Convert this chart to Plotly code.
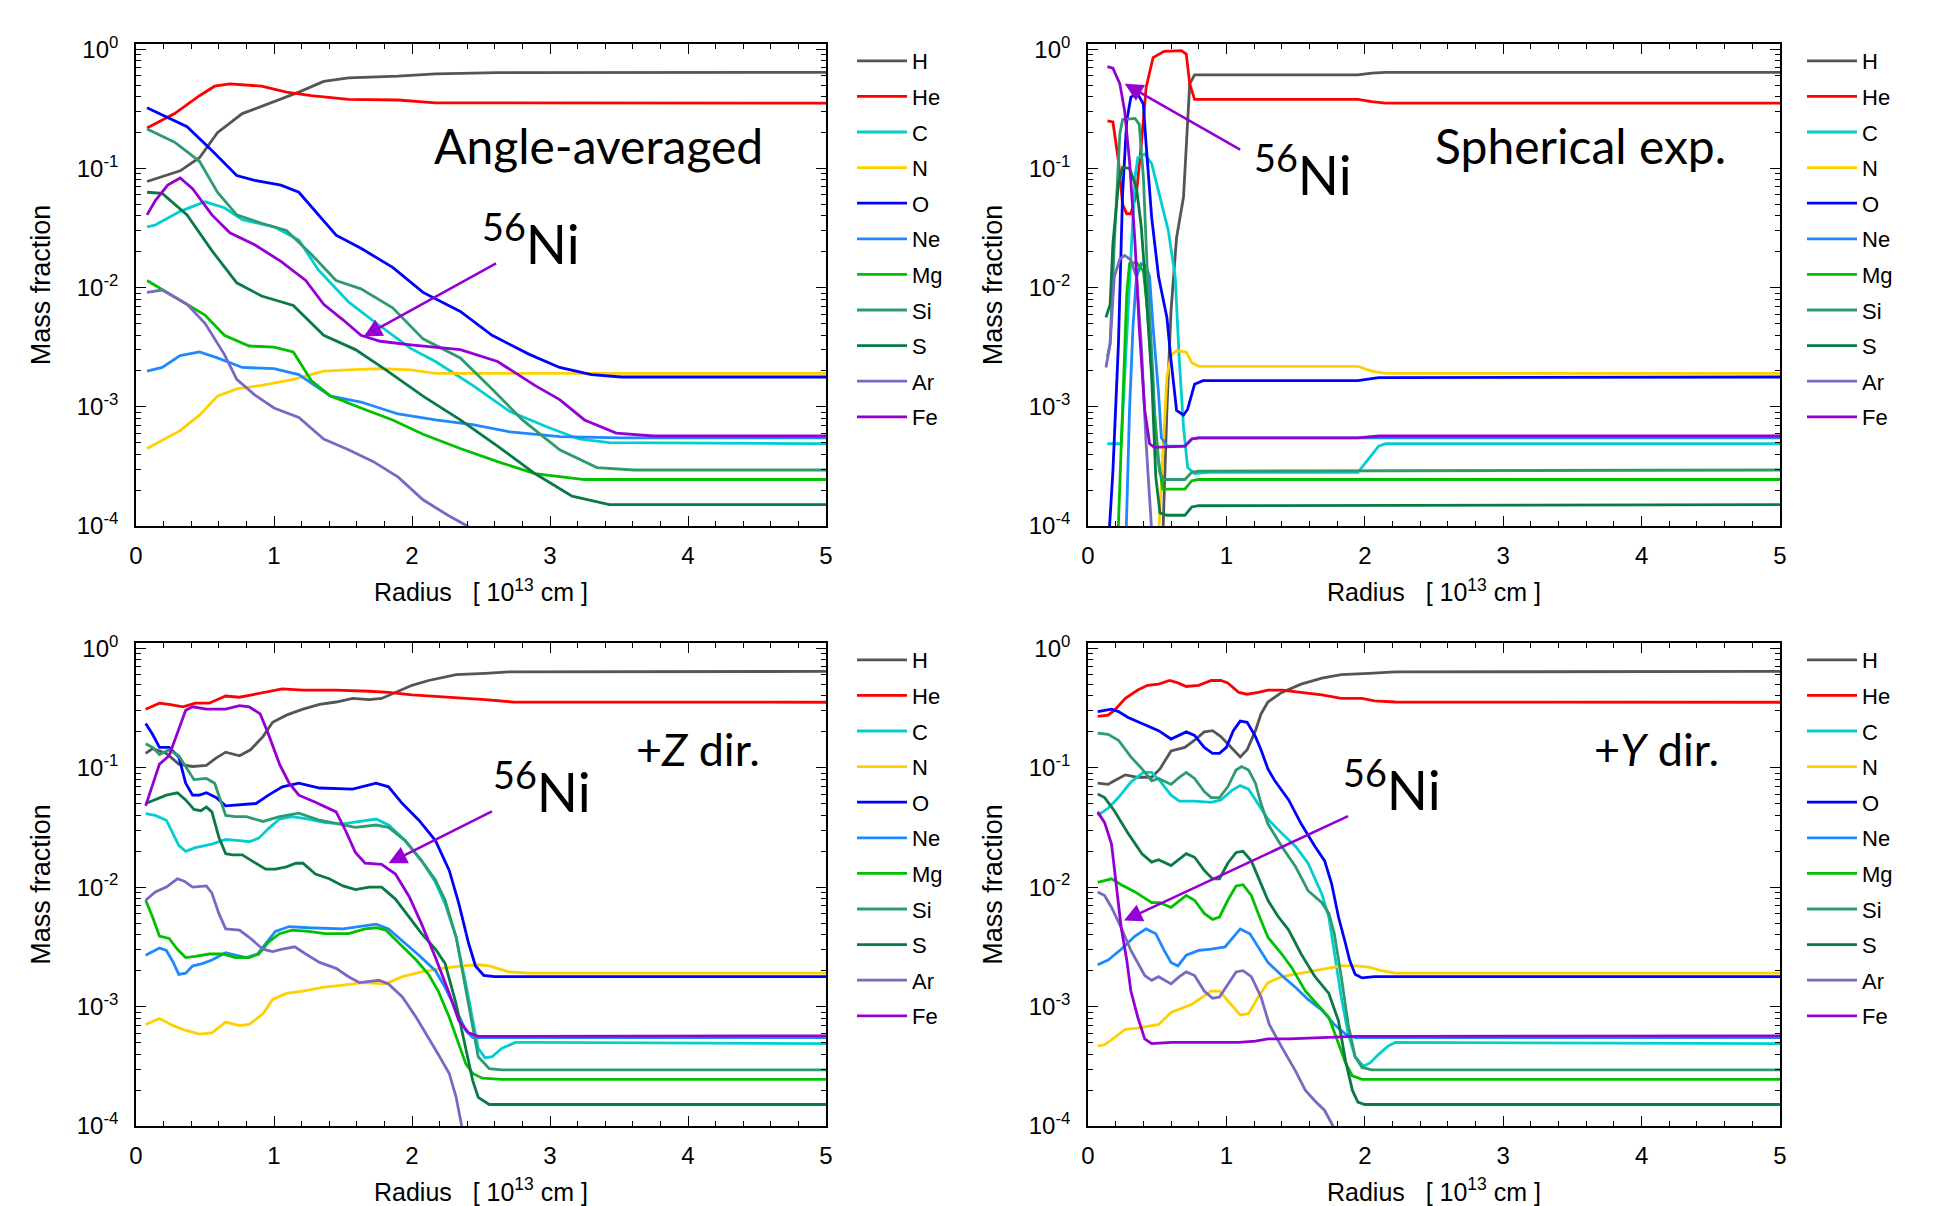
import plotly.graph_objects as go
from plotly.subplots import make_subplots

# ---------------- DATA (radius [1e13 cm], log10 mass fraction) ----------------
ELEMENTS = ["H", "He", "C", "N", "O", "Ne", "Mg", "Si", "S", "Ar", "Fe"]
COLORS = ["#555555", "#FF0000", "#00CED1", "#FFD000", "#0000FF", "#1E88FF",
          "#00C000", "#2E9B6E", "#0A7A45", "#7A68C4", "#9400D3"]

PANEL_TITLES = ["Angle-averaged", "Spherical exp.", "+<i>Z</i> dir.", "+<i>Y</i> dir."]
TITLE_SIZES = [48, 48, 45, 45]

# --- Angle-averaged ---
AVG_H = [(0.08,-1.11),(0.19,-1.07),(0.32,-1.02),(0.46,-0.91),(0.59,-0.70),(0.77,-0.54),(1.0,-0.44),(1.18,-0.36),(1.36,-0.27),(1.54,-0.24),(1.9,-0.226),(2.17,-0.207),(2.62,-0.197),(5.0,-0.194)]
AVG_He = [(0.08,-0.66),(0.28,-0.54),(0.46,-0.39),(0.57,-0.31),(0.68,-0.29),(0.91,-0.31),(1.09,-0.36),(1.27,-0.39),(1.54,-0.42),(1.9,-0.426),(2.17,-0.45),(5.0,-0.452)]
AVG_C = [(0.08,-1.49),(0.14,-1.475),(0.32,-1.36),(0.5,-1.28),(0.64,-1.33),(0.77,-1.43),(1.0,-1.49),(1.18,-1.60),(1.32,-1.85),(1.54,-2.12),(1.72,-2.28),(1.99,-2.51),(2.17,-2.62),(2.44,-2.82),(2.71,-3.04),(2.98,-3.17),(3.21,-3.27),(3.43,-3.30),(5.0,-3.31)]
AVG_N = [(0.08,-3.35),(0.32,-3.2),(0.46,-3.07),(0.59,-2.91),(0.73,-2.85),(0.91,-2.82),(1.14,-2.77),(1.36,-2.70),(1.54,-2.69),(1.77,-2.68),(1.99,-2.69),(2.17,-2.72),(2.62,-2.72),(5.0,-2.72)]
AVG_O = [(0.08,-0.49),(0.37,-0.65),(0.55,-0.85),(0.73,-1.06),(0.86,-1.10),(1.05,-1.14),(1.18,-1.20),(1.32,-1.39),(1.45,-1.56),(1.63,-1.67),(1.86,-1.83),(2.08,-2.04),(2.35,-2.20),(2.58,-2.40),(2.85,-2.56),(3.07,-2.67),(3.30,-2.73),(3.52,-2.75),(5.0,-2.75)]
AVG_Ne = [(0.08,-2.70),(0.19,-2.67),(0.32,-2.57),(0.46,-2.54),(0.59,-2.59),(0.77,-2.67),(1.0,-2.68),(1.18,-2.73),(1.41,-2.91),(1.63,-2.96),(1.9,-3.06),(2.17,-3.11),(2.44,-3.15),(2.71,-3.21),(3.07,-3.25),(3.52,-3.26),(5.0,-3.26)]
AVG_Mg = [(0.08,-1.94),(0.37,-2.14),(0.5,-2.23),(0.64,-2.40),(0.82,-2.49),(1.0,-2.50),(1.14,-2.54),(1.27,-2.78),(1.41,-2.91),(1.63,-3.01),(1.86,-3.11),(2.08,-3.23),(2.35,-3.35),(2.62,-3.46),(2.89,-3.56),(3.25,-3.61),(5.0,-3.61)]
AVG_Si = [(0.08,-0.67),(0.28,-0.78),(0.46,-0.94),(0.59,-1.20),(0.73,-1.39),(0.91,-1.46),(1.09,-1.52),(1.27,-1.72),(1.45,-1.94),(1.63,-2.01),(1.86,-2.17),(2.08,-2.43),(2.35,-2.59),(2.58,-2.85),(2.80,-3.11),(3.07,-3.36),(3.34,-3.51),(3.61,-3.53),(5.0,-3.53)]
AVG_S = [(0.08,-1.20),(0.19,-1.21),(0.37,-1.39),(0.55,-1.69),(0.73,-1.96),(0.91,-2.07),(1.14,-2.15),(1.36,-2.40),(1.59,-2.52),(1.81,-2.69),(2.08,-2.91),(2.35,-3.11),(2.62,-3.33),(2.89,-3.56),(3.16,-3.75),(3.43,-3.82),(5.0,-3.82)]
AVG_Ar = [(0.08,-2.04),(0.19,-2.02),(0.37,-2.14),(0.5,-2.30),(0.64,-2.56),(0.73,-2.77),(0.86,-2.90),(1.0,-3.01),(1.18,-3.09),(1.36,-3.27),(1.54,-3.36),(1.72,-3.46),(1.9,-3.59),(2.08,-3.78),(2.26,-3.91),(2.40,-4.0),(2.5,-4.1)]
AVG_Fe = [(0.08,-1.39),(0.14,-1.27),(0.23,-1.14),(0.32,-1.08),(0.41,-1.17),(0.55,-1.39),(0.68,-1.54),(0.86,-1.64),(1.05,-1.78),(1.23,-1.94),(1.36,-2.14),(1.50,-2.27),(1.63,-2.40),(1.77,-2.45),(1.99,-2.48),(2.35,-2.52),(2.62,-2.62),(2.89,-2.82),(3.07,-2.94),(3.25,-3.11),(3.48,-3.22),(3.75,-3.245),(5.0,-3.245)]

# --- Spherical explosion ---
SPH_H = [(0.535,-4.3),(0.57,-3.03),(0.60,-2.19),(0.64,-1.58),(0.69,-1.24),(0.71,-0.80),(0.735,-0.29),(0.77,-0.215),(1.95,-0.215),(2.05,-0.20),(2.15,-0.194),(5.0,-0.194)]
SPH_He = [(0.14,-0.60),(0.18,-0.61),(0.22,-0.935),(0.25,-1.30),(0.28,-1.38),(0.31,-1.38),(0.35,-1.21),(0.385,-0.80),(0.42,-0.32),(0.47,-0.07),(0.55,-0.018),(0.675,-0.012),(0.71,-0.04),(0.735,-0.29),(0.77,-0.42),(1.95,-0.42),(2.05,-0.44),(2.15,-0.452),(5.0,-0.452)]
SPH_C = [(0.14,-3.31),(0.24,-3.31),(0.265,-2.75),(0.30,-1.91),(0.34,-1.07),(0.36,-0.91),(0.41,-0.88),(0.46,-0.96),(0.52,-1.24),(0.58,-1.52),(0.63,-1.91),(0.66,-2.61),(0.69,-3.17),(0.72,-3.51),(0.77,-3.56),(0.87,-3.55),(1.95,-3.55),(2.04,-3.42),(2.10,-3.33),(2.15,-3.31),(5.0,-3.31)]
SPH_N = [(0.50,-4.3),(0.53,-3.59),(0.57,-2.75),(0.60,-2.57),(0.64,-2.53),(0.71,-2.54),(0.75,-2.63),(0.80,-2.66),(1.95,-2.66),(2.05,-2.70),(2.15,-2.72),(5.0,-2.72)]
SPH_O = [(0.14,-4.3),(0.18,-3.54),(0.22,-2.47),(0.25,-1.21),(0.28,-0.60),(0.31,-0.40),(0.36,-0.376),(0.40,-0.46),(0.42,-0.80),(0.46,-1.41),(0.51,-1.91),(0.57,-2.25),(0.60,-2.61),(0.64,-3.03),(0.69,-3.07),(0.72,-3.02),(0.77,-2.81),(0.83,-2.78),(1.95,-2.78),(2.1,-2.755),(5.0,-2.75)]
SPH_Ne = [(0.27,-4.3),(0.30,-3.03),(0.325,-2.33),(0.35,-1.91),(0.385,-1.80),(0.42,-1.82),(0.445,-1.91),(0.47,-2.33),(0.51,-2.89),(0.53,-3.26),(0.57,-3.33),(0.70,-3.33),(0.75,-3.27),(0.80,-3.26),(5.0,-3.26)]
SPH_Mg = [(0.21,-4.3),(0.25,-3.03),(0.28,-2.05),(0.30,-1.80),(0.35,-1.79),(0.40,-1.86),(0.43,-2.19),(0.47,-2.89),(0.51,-3.45),(0.54,-3.69),(0.70,-3.69),(0.75,-3.62),(0.80,-3.61),(5.0,-3.61)]
SPH_Si = [(0.14,-2.58),(0.16,-2.47),(0.19,-1.63),(0.23,-0.71),(0.25,-0.59),(0.34,-0.58),(0.37,-0.63),(0.40,-1.07),(0.43,-1.91),(0.47,-2.75),(0.49,-3.31),(0.52,-3.56),(0.55,-3.61),(0.70,-3.61),(0.75,-3.55),(0.80,-3.54),(5.0,-3.53)]
SPH_S = [(0.13,-2.25),(0.16,-2.14),(0.18,-1.63),(0.22,-1.13),(0.25,-0.99),(0.30,-1.00),(0.35,-1.16),(0.385,-1.49),(0.42,-2.05),(0.46,-2.75),(0.49,-3.59),(0.52,-3.89),(0.57,-3.91),(0.70,-3.91),(0.75,-3.84),(0.80,-3.83),(5.0,-3.82)]
SPH_Ar = [(0.13,-2.67),(0.16,-2.47),(0.19,-1.91),(0.23,-1.76),(0.265,-1.73),(0.31,-1.77),(0.35,-1.91),(0.385,-2.47),(0.42,-3.31),(0.46,-4.02),(0.48,-4.4)]
SPH_Fe = [(0.14,-0.146),(0.18,-0.158),(0.23,-0.29),(0.265,-0.52),(0.30,-0.94),(0.34,-1.63),(0.37,-2.33),(0.41,-3.03),(0.445,-3.31),(0.48,-3.34),(0.70,-3.33),(0.75,-3.27),(0.80,-3.26),(1.95,-3.26),(2.1,-3.245),(5.0,-3.245)]

# --- +Z direction ---
ZDIR_H = [(0.07,-0.88),(0.12,-0.84),(0.22,-0.88),(0.31,-0.97),(0.41,-0.99),(0.51,-0.98),(0.58,-0.92),(0.65,-0.87),(0.75,-0.90),(0.83,-0.85),(0.92,-0.74),(0.99,-0.62),(1.09,-0.56),(1.21,-0.51),(1.33,-0.47),(1.45,-0.45),(1.57,-0.42),(1.69,-0.43),(1.78,-0.42),(1.88,-0.37),(2.00,-0.31),(2.12,-0.27),(2.32,-0.22),(2.53,-0.21),(2.70,-0.198),(5.0,-0.194)]
ZDIR_He = [(0.07,-0.51),(0.17,-0.46),(0.24,-0.47),(0.34,-0.49),(0.43,-0.46),(0.53,-0.46),(0.65,-0.40),(0.75,-0.41),(0.84,-0.39),(0.94,-0.37),(1.06,-0.34),(1.21,-0.35),(1.45,-0.35),(1.69,-0.36),(1.83,-0.37),(2.00,-0.39),(2.29,-0.41),(2.53,-0.43),(2.73,-0.45),(5.0,-0.452)]
ZDIR_C = [(0.07,-1.385),(0.14,-1.40),(0.22,-1.44),(0.27,-1.55),(0.31,-1.65),(0.36,-1.70),(0.43,-1.67),(0.55,-1.64),(0.65,-1.60),(0.75,-1.61),(0.82,-1.62),(0.89,-1.59),(0.96,-1.51),(1.04,-1.43),(1.13,-1.41),(1.25,-1.43),(1.37,-1.46),(1.50,-1.47),(1.64,-1.45),(1.74,-1.43),(1.83,-1.48),(1.95,-1.61),(2.07,-1.78),(2.17,-1.96),(2.24,-2.14),(2.32,-2.42),(2.39,-2.81),(2.44,-3.12),(2.48,-3.35),(2.53,-3.43),(2.58,-3.42),(2.65,-3.35),(2.75,-3.30),(2.89,-3.30),(5.0,-3.31)]
ZDIR_N = [(0.07,-3.15),(0.17,-3.10),(0.27,-3.16),(0.36,-3.20),(0.46,-3.23),(0.55,-3.22),(0.65,-3.13),(0.75,-3.16),(0.82,-3.15),(0.92,-3.06),(0.99,-2.94),(1.09,-2.89),(1.21,-2.87),(1.35,-2.84),(1.50,-2.82),(1.64,-2.80),(1.81,-2.81),(1.93,-2.75),(2.07,-2.71),(2.22,-2.68),(2.36,-2.66),(2.48,-2.65),(2.56,-2.66),(2.70,-2.71),(2.85,-2.72),(5.0,-2.72)]
ZDIR_O = [(0.07,-0.63),(0.12,-0.72),(0.17,-0.83),(0.24,-0.83),(0.31,-0.91),(0.36,-1.13),(0.41,-1.23),(0.46,-1.23),(0.51,-1.21),(0.58,-1.25),(0.65,-1.32),(0.75,-1.31),(0.87,-1.30),(0.96,-1.23),(1.06,-1.16),(1.18,-1.13),(1.33,-1.17),(1.57,-1.18),(1.74,-1.13),(1.83,-1.16),(1.93,-1.30),(2.05,-1.44),(2.17,-1.61),(2.27,-1.86),(2.34,-2.14),(2.41,-2.47),(2.46,-2.66),(2.52,-2.74),(2.60,-2.75),(5.0,-2.75)]
ZDIR_Ne = [(0.07,-2.57),(0.12,-2.54),(0.17,-2.51),(0.22,-2.53),(0.27,-2.63),(0.31,-2.73),(0.36,-2.72),(0.41,-2.66),(0.48,-2.64),(0.55,-2.61),(0.65,-2.55),(0.72,-2.57),(0.80,-2.59),(0.88,-2.56),(0.94,-2.47),(1.01,-2.37),(1.11,-2.33),(1.25,-2.34),(1.50,-2.35),(1.69,-2.32),(1.74,-2.31),(1.83,-2.35),(1.93,-2.45),(2.05,-2.57),(2.17,-2.70),(2.24,-2.84),(2.32,-3.03),(2.39,-3.20),(2.44,-3.26),(2.56,-3.26),(5.0,-3.26)]
ZDIR_Mg = [(0.07,-2.11),(0.12,-2.25),(0.17,-2.41),(0.24,-2.43),(0.30,-2.52),(0.36,-2.59),(0.43,-2.58),(0.53,-2.56),(0.63,-2.56),(0.72,-2.59),(0.82,-2.59),(0.89,-2.56),(0.96,-2.46),(1.04,-2.39),(1.13,-2.36),(1.25,-2.37),(1.37,-2.39),(1.54,-2.39),(1.66,-2.35),(1.74,-2.34),(1.81,-2.36),(1.91,-2.47),(2.03,-2.61),(2.12,-2.73),(2.19,-2.87),(2.27,-3.09),(2.34,-3.31),(2.39,-3.48),(2.44,-3.56),(2.51,-3.60),(2.65,-3.61),(5.0,-3.61)]
ZDIR_Si = [(0.07,-0.80),(0.12,-0.83),(0.17,-0.89),(0.24,-0.85),(0.31,-0.90),(0.36,-0.99),(0.42,-1.10),(0.51,-1.09),(0.57,-1.13),(0.65,-1.40),(0.72,-1.41),(0.80,-1.41),(0.92,-1.45),(1.04,-1.41),(1.18,-1.38),(1.33,-1.44),(1.45,-1.47),(1.59,-1.50),(1.74,-1.48),(1.83,-1.50),(1.95,-1.61),(2.07,-1.78),(2.17,-1.94),(2.24,-2.11),(2.32,-2.42),(2.39,-2.84),(2.44,-3.17),(2.48,-3.42),(2.56,-3.52),(2.65,-3.53),(5.0,-3.53)]
ZDIR_S = [(0.07,-1.30),(0.14,-1.27),(0.22,-1.23),(0.30,-1.21),(0.36,-1.27),(0.42,-1.35),(0.47,-1.36),(0.51,-1.33),(0.55,-1.37),(0.60,-1.58),(0.65,-1.72),(0.70,-1.73),(0.77,-1.73),(0.84,-1.78),(0.94,-1.85),(1.01,-1.85),(1.09,-1.83),(1.16,-1.80),(1.21,-1.80),(1.30,-1.89),(1.40,-1.93),(1.50,-1.99),(1.59,-2.02),(1.69,-2.00),(1.78,-2.00),(1.88,-2.10),(1.98,-2.25),(2.07,-2.39),(2.17,-2.52),(2.24,-2.64),(2.32,-2.98),(2.39,-3.37),(2.44,-3.62),(2.48,-3.76),(2.56,-3.82),(2.65,-3.82),(5.0,-3.82)]
ZDIR_Ar = [(0.07,-2.11),(0.14,-2.04),(0.22,-2.00),(0.30,-1.93),(0.35,-1.95),(0.41,-2.00),(0.51,-1.99),(0.55,-2.05),(0.60,-2.22),(0.65,-2.35),(0.75,-2.36),(0.82,-2.42),(0.92,-2.52),(0.99,-2.54),(1.06,-2.52),(1.15,-2.50),(1.23,-2.56),(1.33,-2.63),(1.45,-2.68),(1.54,-2.75),(1.62,-2.80),(1.76,-2.78),(1.83,-2.81),(1.93,-2.92),(2.03,-3.09),(2.12,-3.26),(2.19,-3.40),(2.27,-3.56),(2.32,-3.76),(2.36,-4.0),(2.40,-4.2)]
ZDIR_Fe = [(0.07,-1.32),(0.17,-0.97),(0.24,-0.90),(0.36,-0.52),(0.41,-0.49),(0.51,-0.51),(0.65,-0.51),(0.75,-0.48),(0.82,-0.49),(0.90,-0.55),(0.96,-0.72),(1.04,-0.97),(1.11,-1.13),(1.18,-1.23),(1.30,-1.29),(1.45,-1.37),(1.52,-1.53),(1.59,-1.71),(1.66,-1.80),(1.78,-1.81),(1.88,-1.89),(1.98,-2.08),(2.07,-2.31),(2.17,-2.59),(2.27,-2.89),(2.34,-3.12),(2.41,-3.22),(2.48,-3.25),(5.0,-3.245)]

# --- +Y direction ---
YDIR_H = [(0.07,-1.13),(0.145,-1.14),(0.19,-1.11),(0.27,-1.06),(0.36,-1.08),(0.46,-1.08),(0.52,-1.01),(0.60,-0.86),(0.70,-0.83),(0.77,-0.77),(0.84,-0.70),(0.90,-0.69),(0.96,-0.74),(1.04,-0.84),(1.10,-0.91),(1.15,-0.85),(1.21,-0.69),(1.25,-0.55),(1.30,-0.45),(1.40,-0.37),(1.54,-0.30),(1.69,-0.25),(1.83,-0.22),(2.03,-0.21),(2.22,-0.198),(5.0,-0.194)]
YDIR_He = [(0.07,-0.57),(0.145,-0.56),(0.19,-0.52),(0.27,-0.42),(0.36,-0.35),(0.43,-0.31),(0.51,-0.30),(0.59,-0.27),(0.65,-0.29),(0.71,-0.32),(0.80,-0.31),(0.89,-0.27),(0.96,-0.27),(1.01,-0.29),(1.09,-0.37),(1.15,-0.385),(1.23,-0.37),(1.30,-0.35),(1.40,-0.35),(1.54,-0.37),(1.69,-0.39),(1.83,-0.42),(1.98,-0.42),(2.07,-0.44),(2.22,-0.45),(5.0,-0.452)]
YDIR_C = [(0.07,-1.40),(0.145,-1.34),(0.22,-1.25),(0.31,-1.12),(0.40,-1.04),(0.46,-1.04),(0.52,-1.11),(0.60,-1.23),(0.66,-1.28),(0.77,-1.28),(0.89,-1.29),(0.96,-1.27),(1.04,-1.19),(1.10,-1.15),(1.16,-1.18),(1.23,-1.30),(1.30,-1.43),(1.40,-1.55),(1.50,-1.66),(1.59,-1.80),(1.69,-2.06),(1.74,-2.25),(1.78,-2.56),(1.83,-2.92),(1.88,-3.23),(1.93,-3.42),(1.99,-3.50),(2.04,-3.47),(2.10,-3.40),(2.17,-3.33),(2.22,-3.30),(5.0,-3.31)]
YDIR_N = [(0.07,-3.33),(0.12,-3.32),(0.18,-3.27),(0.27,-3.19),(0.36,-3.18),(0.51,-3.15),(0.60,-3.05),(0.75,-2.98),(0.84,-2.91),(0.89,-2.87),(0.95,-2.87),(1.01,-2.95),(1.10,-3.07),(1.16,-3.06),(1.23,-2.92),(1.30,-2.80),(1.40,-2.75),(1.54,-2.72),(1.69,-2.69),(1.83,-2.66),(1.93,-2.66),(2.03,-2.67),(2.12,-2.70),(2.22,-2.72),(5.0,-2.72)]
YDIR_O = [(0.07,-0.53),(0.17,-0.51),(0.22,-0.53),(0.29,-0.58),(0.39,-0.63),(0.51,-0.69),(0.60,-0.76),(0.71,-0.70),(0.77,-0.73),(0.84,-0.83),(0.90,-0.88),(0.95,-0.88),(1.00,-0.83),(1.05,-0.69),(1.10,-0.61),(1.15,-0.62),(1.21,-0.74),(1.25,-0.85),(1.30,-1.01),(1.35,-1.11),(1.45,-1.27),(1.54,-1.47),(1.64,-1.66),(1.71,-1.78),(1.76,-1.97),(1.81,-2.25),(1.86,-2.47),(1.89,-2.61),(1.93,-2.73),(1.98,-2.76),(2.07,-2.75),(2.22,-2.75),(5.0,-2.75)]
YDIR_Ne = [(0.07,-2.65),(0.145,-2.61),(0.24,-2.52),(0.34,-2.41),(0.42,-2.35),(0.49,-2.39),(0.55,-2.53),(0.60,-2.63),(0.65,-2.66),(0.71,-2.57),(0.80,-2.53),(0.89,-2.52),(0.99,-2.50),(1.04,-2.43),(1.10,-2.35),(1.17,-2.39),(1.23,-2.50),(1.30,-2.63),(1.40,-2.74),(1.50,-2.84),(1.59,-2.94),(1.69,-3.03),(1.78,-3.15),(1.86,-3.23),(1.93,-3.26),(5.0,-3.26)]
YDIR_Mg = [(0.07,-1.96),(0.17,-1.93),(0.24,-1.98),(0.34,-2.04),(0.46,-2.13),(0.52,-2.13),(0.60,-2.17),(0.71,-2.07),(0.77,-2.11),(0.84,-2.22),(0.90,-2.27),(0.95,-2.25),(1.01,-2.11),(1.07,-1.99),(1.12,-1.98),(1.18,-2.07),(1.24,-2.25),(1.30,-2.42),(1.40,-2.56),(1.47,-2.67),(1.57,-2.87),(1.66,-2.99),(1.74,-3.09),(1.81,-3.31),(1.86,-3.47),(1.91,-3.58),(1.98,-3.61),(5.0,-3.61)]
YDIR_Si = [(0.07,-0.71),(0.145,-0.72),(0.22,-0.77),(0.31,-0.91),(0.39,-1.01),(0.46,-1.11),(0.51,-1.09),(0.60,-1.14),(0.66,-1.08),(0.71,-1.04),(0.77,-1.09),(0.84,-1.20),(0.89,-1.25),(0.95,-1.25),(1.01,-1.16),(1.07,-1.02),(1.11,-0.99),(1.16,-1.02),(1.21,-1.13),(1.25,-1.30),(1.30,-1.47),(1.40,-1.66),(1.50,-1.83),(1.59,-2.03),(1.69,-2.13),(1.74,-2.22),(1.78,-2.39),(1.83,-2.75),(1.88,-3.15),(1.93,-3.42),(1.98,-3.51),(2.05,-3.53),(5.0,-3.53)]
YDIR_S = [(0.07,-1.22),(0.12,-1.25),(0.19,-1.36),(0.29,-1.55),(0.39,-1.72),(0.46,-1.79),(0.51,-1.77),(0.60,-1.82),(0.71,-1.72),(0.77,-1.75),(0.84,-1.86),(0.90,-1.93),(0.95,-1.93),(1.01,-1.80),(1.07,-1.71),(1.12,-1.70),(1.18,-1.78),(1.24,-1.94),(1.30,-2.11),(1.37,-2.24),(1.45,-2.36),(1.54,-2.56),(1.64,-2.75),(1.74,-2.89),(1.81,-3.12),(1.86,-3.45),(1.91,-3.70),(1.95,-3.80),(2.00,-3.82),(5.0,-3.82)]
YDIR_Ar = [(0.07,-2.04),(0.12,-2.07),(0.17,-2.17),(0.24,-2.34),(0.31,-2.53),(0.41,-2.74),(0.46,-2.78),(0.51,-2.75),(0.60,-2.81),(0.66,-2.75),(0.71,-2.71),(0.77,-2.74),(0.84,-2.87),(0.90,-2.93),(0.95,-2.92),(1.01,-2.81),(1.07,-2.71),(1.12,-2.70),(1.18,-2.75),(1.25,-2.92),(1.31,-3.15),(1.40,-3.34),(1.50,-3.54),(1.57,-3.70),(1.64,-3.79),(1.71,-3.87),(1.77,-4.0),(1.80,-4.2)]
YDIR_Fe = [(0.07,-1.37),(0.12,-1.46),(0.17,-1.64),(0.205,-1.97),(0.24,-2.34),(0.28,-2.61),(0.31,-2.87),(0.36,-3.09),(0.41,-3.27),(0.46,-3.31),(0.60,-3.30),(0.84,-3.30),(1.09,-3.30),(1.21,-3.29),(1.30,-3.27),(1.45,-3.27),(1.69,-3.26),(1.93,-3.25),(2.17,-3.25),(5.0,-3.245)]

# 56Ni arrow (head r, head log10X, tail r, tail log10X) and label positions
NI_ARROWS = [(1.65, -2.41, 2.62, -1.79), (0.265, -0.29, 1.11, -0.85),
             (1.83, -1.80, 2.59, -1.36), (0.26, -2.28, 1.89, -1.40)]
NI_LABELS = [(2.86, -1.60), (1.55, -1.02), (2.94, -1.17), (2.20, -1.15)]
TITLE_POS = [(3.35, -0.81), (3.56, -0.81), (4.07, -0.84), (4.11, -0.84)]

Y_TICKVALS = [1e-4, 1e-3, 1e-2, 1e-1, 1.0]
Y_TICKTEXT = ["10<sup>-4</sup>", "10<sup>-3</sup>", "10<sup>-2</sup>", "10<sup>-1</sup>", "10<sup>0</sup>"]

PANEL_DATA = [
    [AVG_H, AVG_He, AVG_C, AVG_N, AVG_O, AVG_Ne, AVG_Mg, AVG_Si, AVG_S, AVG_Ar, AVG_Fe],
    [SPH_H, SPH_He, SPH_C, SPH_N, SPH_O, SPH_Ne, SPH_Mg, SPH_Si, SPH_S, SPH_Ar, SPH_Fe],
    [ZDIR_H, ZDIR_He, ZDIR_C, ZDIR_N, ZDIR_O, ZDIR_Ne, ZDIR_Mg, ZDIR_Si, ZDIR_S, ZDIR_Ar, ZDIR_Fe],
    [YDIR_H, YDIR_He, YDIR_C, YDIR_N, YDIR_O, YDIR_Ne, YDIR_Mg, YDIR_Si, YDIR_S, YDIR_Ar, YDIR_Fe],
]

# ---------------- FIGURE ----------------
W, H = 1944, 1206
SANS = "Liberation Sans, Arial, Helvetica, sans-serif"
CALI = "Lato, Open Sans, sans-serif"

fig = make_subplots(rows=2, cols=2)
cells = [(1, 1), (1, 2), (2, 1), (2, 2)]
legends = ["legend", "legend2", "legend3", "legend4"]

for p, series_list in enumerate(PANEL_DATA):
    row, col = cells[p]
    for el, color, pts in zip(ELEMENTS, COLORS, series_list):
        fig.add_trace(go.Scatter(
            x=[q[0] for q in pts], y=[10 ** q[1] for q in pts],
            mode="lines", name=el, legend=legends[p], legendgroup=f"p{p}_{el}",
            line=dict(color=color, width=2.8),
        ), row=row, col=col)

xdom = [[136 / W, 826 / W], [1088 / W, 1780 / W]]
ydom = [[1 - 526 / H, 1 - 44 / H], [1 - 1126 / H, 1 - 643 / H]]

minor_y = [m * 10 ** e for e in range(-4, 0) for m in range(2, 10)]

for p in range(4):
    row, col = cells[p]
    sfx = "" if p == 0 else str(p + 1)
    fig.layout["xaxis" + sfx].update(
        domain=xdom[col - 1], range=[0, 5], tick0=0, dtick=1, automargin=False,
        ticks="inside", ticklen=10, tickwidth=1.3, tickcolor="black", ticklabelstandoff=7,
        minor=dict(dtick=0.2, tick0=0, ticks="inside", ticklen=5, tickwidth=1.1, tickcolor="black", showgrid=False),
        showline=True, linecolor="black", linewidth=1.6, mirror="allticks",
        showgrid=False, zeroline=False,
        tickfont=dict(family=SANS, size=24, color="black"),
        title=dict(text="Radius&nbsp;&nbsp;&nbsp;[ 10<sup>13</sup> cm ]", standoff=16,
                   font=dict(family=SANS, size=25, color="black")),
    )
    fig.layout["yaxis" + sfx].update(
        domain=ydom[row - 1], type="log", range=[-4, 0.044], automargin=False,
        tickmode="array", tickvals=Y_TICKVALS, ticktext=Y_TICKTEXT,
        ticks="inside", ticklen=10, tickwidth=1.3, tickcolor="black", ticklabelstandoff=11,
        minor=dict(tickmode="array", tickvals=minor_y, ticks="inside", ticklen=5, tickwidth=1.1, tickcolor="black", showgrid=False),
        showline=True, linecolor="black", linewidth=1.6, mirror="allticks",
        showgrid=False, zeroline=False,
        tickfont=dict(family=SANS, size=24, color="black"),
        title=dict(text="Mass fraction", standoff=18,
                   font=dict(family=SANS, size=27, color="black")),
    )

leg_x = [852 / W, 1802 / W, 852 / W, 1802 / W]
leg_y = [1 - 40 / H, 1 - 40 / H, 1 - 639 / H, 1 - 639 / H]
for p in range(4):
    fig.layout[legends[p]] = dict(
        x=leg_x[p], y=leg_y[p], xanchor="left", yanchor="top",
        bgcolor="rgba(0,0,0,0)", borderwidth=0, itemwidth=50, tracegroupgap=4,
        font=dict(family=SANS, size=22, color="black"),
    )

annotations = []
for p in range(4):
    sfx = "" if p == 0 else str(p + 1)
    xr, yr = "x" + sfx, "y" + sfx
    tx, ty = TITLE_POS[p]
    annotations.append(dict(x=tx, y=ty, xref=xr, yref=yr, text=PANEL_TITLES[p],
                            showarrow=False, font=dict(family=CALI, size=TITLE_SIZES[p], color="black")))
    nx, ny = NI_LABELS[p]
    annotations.append(dict(x=nx, y=ny, xref=xr, yref=yr, text="<sup>56</sup>Ni",
                            showarrow=False, font=dict(family=CALI, size=54, color="black")))
    hx, hy, ax_, ay_ = NI_ARROWS[p]
    annotations.append(dict(x=hx, y=hy, xref=xr, yref=yr, ax=ax_, ay=ay_, axref=xr, ayref=yr,
                            text="", showarrow=True, arrowhead=2, arrowsize=1.4, arrowwidth=2.6,
                            arrowcolor="#9400D3", standoff=0, startstandoff=0))

fig.update_layout(
    width=W, height=H, margin=dict(l=0, r=0, t=0, b=0, autoexpand=False),
    paper_bgcolor="white", plot_bgcolor="white",
    annotations=annotations, showlegend=True,
)

fig.write_html("out.html", config={"displayModeBar": False},
               post_script="document.body.style.margin='0px';")
